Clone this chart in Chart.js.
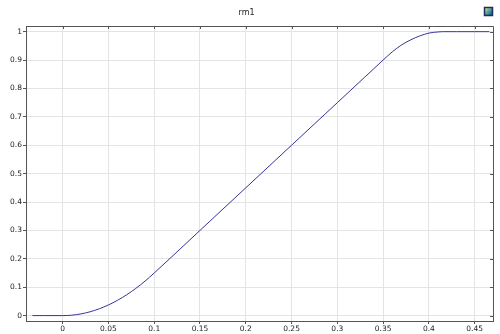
<!DOCTYPE html>
<html>
<head>
<meta charset="utf-8">
<script src="https://cdn.jsdelivr.net/npm/chart.js@4"></script>
<style>
  html, body { margin: 0; padding: 0; background: #fff; }
  #wrap { width: 500px; height: 334px; }
</style>
</head>
<body>
<div id="wrap"><canvas id="rmChart"></canvas></div>
<script>
// values
let xValues = [-0.033, -0.02, 0, 0.01, 0.02, 0.03, 0.04, 0.05, 0.06, 0.07, 0.08, 0.09, 0.1,
    0.15, 0.2, 0.25, 0.3, 0.33, 0.34, 0.35, 0.36, 0.37, 0.38, 0.39, 0.4, 0.41, 0.415, 0.43, 0.45, 0.466];
let yValues = [0, 0, 0, 0.0015, 0.006, 0.0135, 0.024, 0.0375, 0.054, 0.0735, 0.096, 0.1215, 0.15,
    0.3, 0.45, 0.6, 0.75, 0.84, 0.87, 0.9, 0.929, 0.953, 0.971, 0.985, 0.995, 0.999, 1, 1, 1, 1];
let xTicks = [0, 0.05, 0.1, 0.15, 0.2, 0.25, 0.3, 0.35, 0.4, 0.45];
let yTicks = [0, 0.1, 0.2, 0.3, 0.4, 0.5, 0.6, 0.7, 0.8, 0.9, 1];

let points = [];
xValues.forEach(function (x, i) {
    points.push({ x: x, y: yValues[i] });
});

// frame on top/right with inward ticks, plus the little icon in the corner
let framePlugin = {
    id: 'frame',
    afterDraw: function (chart) {
        let ctx = chart.ctx;
        let a = chart.chartArea;
        let xs = chart.scales.x;
        let ys = chart.scales.y;
        ctx.save();
        ctx.strokeStyle = '#555';
        ctx.lineWidth = 1;
        ctx.beginPath();
        ctx.moveTo(a.left, a.top + 0.5);
        ctx.lineTo(a.right + 0.5, a.top + 0.5);
        ctx.lineTo(a.right + 0.5, a.bottom);
        xTicks.forEach(function (v) {
            let px = Math.round(xs.getPixelForValue(v)) + 0.5;
            ctx.moveTo(px, a.top);
            ctx.lineTo(px, a.top + 3);
        });
        yTicks.forEach(function (v) {
            let py = Math.round(ys.getPixelForValue(v)) + 0.5;
            ctx.moveTo(a.right, py);
            ctx.lineTo(a.right - 3, py);
        });
        ctx.stroke();

        // icon
        let g = ctx.createLinearGradient(485, 8, 492, 15);
        g.addColorStop(0, '#e8e070');
        g.addColorStop(0.5, '#50a0a0');
        g.addColorStop(1, '#1d4f9a');
        ctx.fillStyle = g;
        ctx.fillRect(484, 7, 9, 9);
        ctx.strokeStyle = '#1b2f5a';
        ctx.lineWidth = 1.5;
        ctx.strokeRect(484.5, 7.5, 8, 8);
        ctx.restore();
    }
};

new Chart("rmChart", {
    type: "line",
    data: {
        datasets: [{
            data: points,
            borderColor: "#34349a",
            borderWidth: 1,
            pointRadius: 0,
            fill: false,
            cubicInterpolationMode: 'monotone'
        }]
    },
    options: {
        responsive: true,
        maintainAspectRatio: false,
        animation: false,
        layout: { padding: { left: 0, right: 7, top: 0, bottom: 0 } },
        plugins: {
            legend: { display: false },
            tooltip: { enabled: false },
            title: {
                display: true,
                text: 'rm1',
                color: '#222',
                font: { family: 'DejaVu Sans', size: 8, weight: 'normal', lineHeight: 1.2 },
                padding: { top: 8, bottom: 8.4 }
            }
        },
        scales: {
            x: {
                type: 'linear',
                min: -0.04,
                max: 0.47,
                afterBuildTicks: function (scale) {
                    scale.ticks = xTicks.map(v => ({ value: v }));
                },
                afterFit: function (scale) { scale.height = 13; },
                grid: { color: '#e4e4e4', tickColor: '#555', tickLength: 3, lineWidth: 1 },
                border: { color: '#555', width: 1 },
                ticks: {
                    padding: 1,
                    maxRotation: 0,
                    autoSkip: false,
                    color: '#222',
                    font: { family: 'DejaVu Sans', size: 7.5 },
                    callback: function (v) { return String(+v.toFixed(2)); }
                }
            },
            y: {
                type: 'linear',
                min: -0.019,
                max: 1.02,
                afterBuildTicks: function (scale) {
                    scale.ticks = yTicks.map(v => ({ value: v }));
                },
                afterFit: function (scale) { scale.width = 26; },
                grid: { color: '#e4e4e4', tickColor: '#555', tickLength: 3, lineWidth: 1 },
                border: { color: '#555', width: 1 },
                ticks: {
                    padding: 1,
                    autoSkip: false,
                    color: '#222',
                    font: { family: 'DejaVu Sans', size: 7.5 },
                    callback: function (v) { return String(+v.toFixed(1)); }
                }
            }
        }
    },
    plugins: [framePlugin]
});
</script>
</body>
</html>
